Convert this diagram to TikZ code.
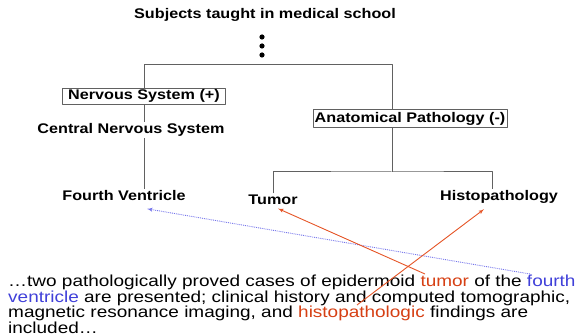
\documentclass[tikz,border=0pt]{standalone}
\usepackage{fontspec}
\setmainfont{Liberation Sans}
\usetikzlibrary{arrows}

\definecolor{treegray}{rgb}{0.38,0.38,0.38}
\definecolor{hitred}{rgb}{0.84,0.25,0.08}
\definecolor{hitblue}{rgb}{0.25,0.25,0.85}
\definecolor{linkred}{rgb}{0.90,0.33,0.15}
\definecolor{linkblue}{rgb}{0.45,0.45,0.92}

\tikzset{
  concept/.style={font=\fontsize{14}{16}\selectfont\bfseries,xscale=1.16,inner sep=1.5bp},
  conceptbox/.style={concept,draw=treegray,line width=0.9bp,minimum height=16bp,inner ysep=1bp},
  branch/.style={draw=treegray,line width=1bp},
  redlink/.style={->,draw=linkred,line width=0.9bp},
  bluelink/.style={->,draw=linkblue,densely dotted,line width=0.9bp}
}

\begin{document}
\begin{tikzpicture}[>=latex',line join=bevel]
	\useasboundingbox (0bp,0bp) rectangle (579bp,335bp);
	%% concepts
	\node (subj) at (265bp,320bp) [concept] {Subjects taught in medical school};
	\node (ns) at (144bp,239bp) [conceptbox,minimum width=141bp] {Nervous System (+)};
	\node (cns) at (131bp,205bp) [concept] {Central Nervous System};
	\node (fv) at (124bp,139bp) [concept] {Fourth Ventricle};
	\node (ap) at (410bp,216.5bp) [conceptbox,minimum width=167bp,minimum height=18bp] {Anatomical Pathology (-)};
	\node (tum) at (273bp,135bp) [concept] {Tumor};
	\node (histo) at (499bp,138bp) [concept] {Histopathology};

	\fill (262bp,298bp) circle (2.6bp);
	\fill (262bp,289bp) circle (2.6bp);
	\fill (262bp,280bp) circle (2.6bp);

	\coordinate (split) at (392bp,270bp);
	\coordinate (fork) at (392bp,163bp);

	\draw [branch] (ns.north) |- (split) -- (split |- ap.north);
	\draw [branch] (ns.south) -- (ns.south |- cns.north);
	\draw [branch] (ns.south |- cns.south) -- (ns.south |- fv.north);
	\draw [branch] (ap.south -| fork) -- (fork);
	\draw [branch] (tum.north) |- (fork) -| ([xshift=-7bp]histo.north);

	%% abstract
	\node (abs) at (8bp,60bp) [anchor=north west,align=left,inner sep=0pt,xscale=1.19,font=\fontsize{16}{15.5}\selectfont]
	  {…two pathologically proved cases of epidermoid \textcolor{hitred}{tumor} of the \textcolor{hitblue}{fourth}\\
	   \textcolor{hitblue}{ventricle} are presented; clinical history and computed tomographic,\\
	   magnetic resonance imaging, and \textcolor{hitred}{histopathologic} findings are\\
	   included…};
	\coordinate (w4) at (530bp,61bp);
	\coordinate (w1) at (425bp,61bp);
	\coordinate (w3) at (357bp,30bp);

	\draw [bluelink] (w4) -- ([xshift=23bp,yshift=-6bp]fv.south);
	\draw [redlink] (w1) -- ([xshift=5bp,yshift=-2bp]tum.south);
	\draw [redlink] (w3) -- ([xshift=-15bp,yshift=-4bp]histo.south);
	%
\end{tikzpicture}
\end{document}
